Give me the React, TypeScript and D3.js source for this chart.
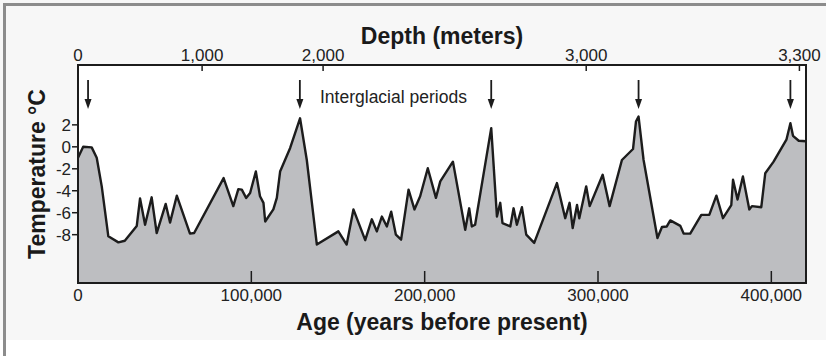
// @ts-nocheck
import React from "react";
import * as d3 from "d3";

// Vostok-style temperature record
const ageKyr = [
  0, 3, 7.9, 10.8, 13.7, 17.5, 23.3, 27, 33.9, 35.8, 38.7, 42.5, 45.4, 50.6, 53.1, 57, 64.6, 67,
  84, 89.6, 92.5, 94.5, 97, 99.3, 102.6, 105, 107, 108, 112.7, 114.7, 116.6, 122.4, 128.1, 132,
  137.8, 150.2, 155, 158.9, 165.7, 169.5, 172.4, 175.3, 178.2, 180.7, 183.4, 186.4, 190.7, 194.1,
  197.4, 201.8, 206.5, 209, 216.3, 223.4, 225.7, 227.2, 229.1, 238.4, 241.7, 243.6, 244.9, 249.4,
  251.3, 253.2, 256.1, 258.6, 263.2, 276.3, 281.1, 283.6, 285.4, 287.9, 289.2, 293.2, 295.2, 302.7,
  306.7, 313.8, 320.2, 321.9, 323.4, 326.3, 334.3, 336.9, 339.7, 341.7, 347.5, 349.4, 353.2, 359.6,
  364.2, 368.3, 372.1, 376.9, 377.9, 380.5, 383.6, 387.3, 388.8, 394.2, 396.5, 401.3, 408.7, 411,
  412.5, 415.8, 420,
];
const tempC = [
  -1.0, 0, -0.05, -1.0, -3.6, -8.15, -8.7, -8.55, -7.2, -4.7, -7.1, -4.6, -7.85, -5.2, -6.9, -4.45, -7.9, -7.85,
  -2.85, -5.4, -3.85, -3.9, -4.65, -4.2, -2.25, -4.5, -5.1, -6.8, -5.7, -4.65, -2.25, -0.1, 2.6, -1.2,
  -8.9, -7.7, -8.9, -5.7, -8.5, -6.6, -7.7, -6.35, -7.25, -5.9, -8.0, -8.45, -3.9, -5.7,
  -4.5, -1.95, -4.65, -3.15, -1.35, -7.55, -5.6, -7.25, -7.1, 1.7, -6.35, -5.1, -6.95, -7.25,
  -5.6, -7.1, -5.5, -8.0, -8.75, -3.3, -6.5, -5.1, -7.4, -5.3, -6.5, -3.6, -5.4, -2.55,
  -5.4, -1.2, -0.2, 2.3, 2.75, -1.2, -8.3, -7.3, -7.25, -6.7, -7.2, -7.9, -7.9, -6.2,
  -6.2, -4.45, -6.5, -5.3, -3.0, -4.8, -2.7, -5.7, -5.4, -5.5, -2.4, -1.35, 0.65, 2.15,
  1.0, 0.55, 0.5,
];

const ageTicks = [0, 100000, 200000, 300000, 400000];
const tempTicks = [2, 0, -2, -4, -6, -8];
const depthTicks = [0, 1000, 2000, 3000, 3300];
// age (years) at which each depth tick sits on the top axis
const depthTickAges = [0, 71600, 141400, 293200, 416200];
const interglacialAges = [5800, 128000, 238400, 323400, 411000];

const App = () => {
  const svgRef = React.useRef(null);
  const width = 826;
  const height = 356;
  const margin = { left: 78, right: 20, top: 65, bottom: 73 };

  React.useEffect(() => {
    const svg = d3.select(svgRef.current);
    svg.selectAll("*").remove();

    const x = d3.scaleLinear().domain([0, 420000]).range([margin.left, width - margin.right]);
    const y = d3.scaleLinear().domain([-12.4, 7.45]).range([height - margin.bottom, margin.top]);
    const depthX = d3.scaleLinear().domain(depthTicks).range(depthTickAges);
    const data = ageKyr.map((a, i) => [a * 1000, tempC[i]]);
    const font = "'Liberation Sans', Arial, Helvetica, sans-serif";
    const ink = "#1c1c1c";
    const x0 = margin.left, x1 = width - margin.right;
    const yTop = margin.top, yBot = height - margin.bottom;

    // background panel + frame
    svg.append("rect").attr("x", 0).attr("y", 0).attr("width", width).attr("height", 340).attr("fill", "#f7f7f7");
    svg.append("rect").attr("x", 0).attr("y", 340).attr("width", width).attr("height", 16).attr("fill", "#ffffff");
    svg.append("line").attr("x1", 3).attr("x2", width).attr("y1", 4.5).attr("y2", 4.5)
      .attr("stroke", "#8c8c8c").attr("stroke-width", 3);
    svg.append("line").attr("x1", 4.5).attr("x2", 4.5).attr("y1", 3).attr("y2", height)
      .attr("stroke", "#8c8c8c").attr("stroke-width", 3);

    // plot area
    svg.append("defs").append("clipPath").attr("id", "plotClip")
      .append("rect").attr("x", x0).attr("y", yTop).attr("width", x1 - x0).attr("height", yBot - yTop);
    svg.append("rect").attr("x", x0).attr("y", yTop).attr("width", x1 - x0).attr("height", yBot - yTop).attr("fill", "#ffffff");

    const area = d3.area().x(d => x(d[0])).y0(yBot).y1(d => y(d[1]));
    const line = d3.line().x(d => x(d[0])).y(d => y(d[1]));
    const g = svg.append("g").attr("clip-path", "url(#plotClip)");
    g.append("path").datum(data).attr("d", area).attr("fill", "#bdbec1");
    g.append("path").datum(data).attr("d", line).attr("fill", "none")
      .attr("stroke", ink).attr("stroke-width", 2.4).attr("stroke-linejoin", "round");

    // frame
    svg.append("rect").attr("x", x0).attr("y", yTop).attr("width", x1 - x0).attr("height", yBot - yTop)
      .attr("fill", "none").attr("stroke", ink).attr("stroke-width", 2);

    // bottom axis: inward ticks
    ageTicks.forEach(t => {
      svg.append("line").attr("x1", x(t)).attr("x2", x(t)).attr("y1", yBot).attr("y2", yBot - 12)
        .attr("stroke", ink).attr("stroke-width", 1.5);
      svg.append("text").attr("x", x(t)).attr("y", yBot + 18).attr("text-anchor", "middle")
        .attr("font-family", font).attr("font-size", 17).attr("fill", "#222")
        .text(d3.format(",")(t));
    });

    // top axis (depth)
    depthTicks.forEach(d => {
      const px = x(depthX(d));
      svg.append("line").attr("x1", px).attr("x2", px).attr("y1", yTop).attr("y2", yTop + 6)
        .attr("stroke", ink).attr("stroke-width", 1.5);
      svg.append("text").attr("x", px).attr("y", yTop - 4).attr("text-anchor", "middle")
        .attr("font-family", font).attr("font-size", 17).attr("fill", "#222")
        .text(d3.format(",")(d));
    });

    // left axis
    tempTicks.forEach(t => {
      svg.append("line").attr("x1", x0 - 6).attr("x2", x0).attr("y1", y(t)).attr("y2", y(t))
        .attr("stroke", ink).attr("stroke-width", 1.5);
      svg.append("text").attr("x", x0 - 7).attr("y", y(t)).attr("dy", "0.36em").attr("text-anchor", "end")
        .attr("font-family", font).attr("font-size", 17).attr("fill", "#222")
        .text(String(t));
    });

    // interglacial arrows
    interglacialAges.forEach(a => {
      const px = x(a);
      svg.append("line").attr("x1", px).attr("x2", px).attr("y1", 80).attr("y2", 100)
        .attr("stroke", ink).attr("stroke-width", 1.8);
      svg.append("path").attr("d", `M${px - 3.5},99 L${px + 3.5},99 L${px},109 Z`).attr("fill", ink);
    });
    svg.append("text").attr("x", 320).attr("y", 103).attr("font-family", font).attr("font-size", 17.5)
      .attr("fill", "#222").text("Interglacial periods");

    // titles
    svg.append("text").attr("x", (x0 + x1) / 2).attr("y", 44).attr("text-anchor", "middle")
      .attr("font-family", font).attr("font-weight", "bold").attr("font-size", 23).attr("fill", "#1a1a1a")
      .text("Depth (meters)");
    svg.append("text").attr("x", (x0 + x1) / 2).attr("y", 330).attr("text-anchor", "middle")
      .attr("font-family", font).attr("font-weight", "bold").attr("font-size", 23).attr("fill", "#1a1a1a")
      .text("Age (years before present)");
    svg.append("text").attr("transform", "translate(45,174) rotate(-90)").attr("text-anchor", "middle")
      .attr("font-family", font).attr("font-weight", "bold").attr("font-size", 23).attr("fill", "#1a1a1a")
      .text("Temperature °C");
  }, []);

  return (
    <svg ref={svgRef} width={width} height={height}
      style={{ position: "absolute", left: 0, top: 0, display: "block" }} />
  );
};

export default App;
